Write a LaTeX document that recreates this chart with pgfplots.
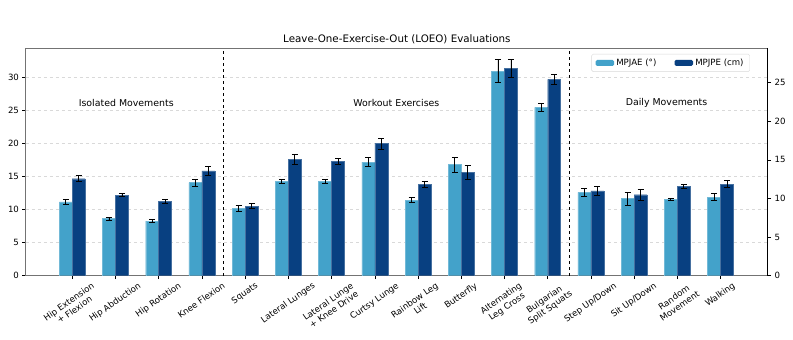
\documentclass[border=0pt]{standalone}
\usepackage{pgfplots}
\pgfplotsset{compat=1.18}
\usepackage{pgfplotstable}
\usepackage{graphicx}
\usepackage{fontspec}
\setmainfont{DejaVu Sans}

\definecolor{jae}{HTML}{43A2CA}
\definecolor{jpe}{HTML}{084081}

% x  MPJAE  err  MPJPE  err
\pgfplotstableread{
x  L      Le    D      De
0  11.20  0.40  12.56  0.41
1  8.64   0.23  10.45  0.17
2  8.28   0.23  9.63   0.30
3  14.09  0.50  13.56  0.58
4  10.25  0.45  9.02   0.37
5  14.29  0.35  15.07  0.60
6  14.29  0.35  14.81  0.35
7  17.22  0.73  17.10  0.71
8  11.46  0.35  11.79  0.39
9  16.82  1.16  13.39  0.91
10 31.01  1.72  26.86  1.14
11 25.51  0.61  25.43  0.65
12 12.63  0.58  10.97  0.60
13 11.67  1.01  10.49  0.71
14 11.57  0.18  11.61  0.26
15 11.92  0.48  11.87  0.50
}\loeo

\newcommand\rl[1]{\rotatebox{35}{\begin{tabular}{@{}c@{}}#1\end{tabular}}}

\pgfplotsset{
  common/.style={
    width=741.7pt, height=227.4pt, scale only axis,
    xmin=-1.07, xmax=16.09,
    tick align=outside,
    major tick length=3.5pt,
    tick style={black, line width=0.6pt},
    tick label style={font=\fontsize{8.6}{10}\selectfont},
    /pgf/number format/assume math mode=true,
  },
  errs/.style={
    error bars/.cd, y dir=both, y explicit,
    error bar style={black, line width=0.9pt},
    error mark options={black, line width=0.9pt, mark size=3pt, rotate=90},
  },
}

\begin{document}
\begin{tikzpicture}
\begin{axis}[
    common, name=ax,
    ymin=0, ymax=34.45,
    ytick={0,5,...,30},
    xtick={0,...,15},
    xtick pos=bottom, ytick pos=left,
    xticklabels={
      \rl{Hip Extension\\+ Flexion},
      \rl{Hip Abduction},
      \rl{Hip Rotation},
      \rl{Knee Flexion},
      \rl{Squats},
      \rl{Lateral Lunges},
      \rl{Lateral Lunge\\+ Knee Drive},
      \rl{Curtsy Lunge},
      \rl{Rainbow Leg\\Lift},
      \rl{Butterfly},
      \rl{Alternating\\Leg Cross},
      \rl{Bulgarian\\Split Squats},
      \rl{Step Up/Down},
      \rl{Sit Up/Down},
      \rl{Random\\Movement},
      \rl{Walking}},
    xticklabel style={anchor=north, inner sep=2pt},
    axis line style={black!55, line width=1pt},
    ymajorgrids,
    grid style={dashed, black!15, line width=0.5pt},
    title={Leave-One-Exercise-Out (LOEO) Evaluations},
    title style={font=\fontsize{10.3}{12}\selectfont, at={(0.5,1)}, anchor=south, yshift=-5pt},
  ]
  \addplot[ybar, bar width=0.3, bar shift=0, fill=jae, draw=jae!75!white, line width=0.4pt, errs]
    table[x expr=\thisrow{x}-0.15, y=L, y error=Le] {\loeo};
  \addplot[black, dashed, line width=1pt, forget plot] coordinates {(3.5,0) (3.5,34.45)};
  \addplot[black, dashed, line width=1pt, forget plot] coordinates {(11.5,0) (11.5,34.45)};
  \node[font=\fontsize{9.4}{11}\selectfont] at (axis cs:1.25,26.2) {Isolated Movements};
  \node[font=\fontsize{9.4}{11}\selectfont] at (axis cs:7.5,26.2) {Workout Exercises};
  \node[font=\fontsize{9.4}{11}\selectfont] at (axis cs:13.75,26.2) {Daily Movements};
\end{axis}
\begin{axis}[
    common,
    ymin=0, ymax=29.45,
    ytick={0,5,...,25},
    axis x line=none,
    axis y line*=right,
    axis line style={black, line width=0.8pt},
    legend columns=2,
    legend style={at={(0.9761,0.975)}, anchor=north east,
      font=\fontsize{8.6}{10}\selectfont, draw=black!15, rounded corners=1.5pt,
      inner xsep=4pt, inner ysep=2.5pt,
      nodes={inner sep=2.2pt},
      /tikz/every even column/.append style={column sep=16pt}},
    legend image code/.code={\fill[#1, draw=none] (0pt,-3pt) rectangle (18.5pt,3pt);},
  ]
  \addlegendimage{fill=jae}
  \addlegendentry{MPJAE (°)}
  \addplot[ybar, bar width=0.3, bar shift=0, fill=jpe, draw=jpe!75!white, line width=0.4pt, errs]
    table[x expr=\thisrow{x}+0.15, y=D, y error=De] {\loeo};
  \addlegendentry{MPJPE (cm)}
\end{axis}
\pgfresetboundingbox
\path[use as bounding box] (ax.south west) ++(-26pt,-64.3pt) rectangle ([xshift=25.3pt,yshift=48.3pt]ax.north east);
\end{tikzpicture}
\end{document}
